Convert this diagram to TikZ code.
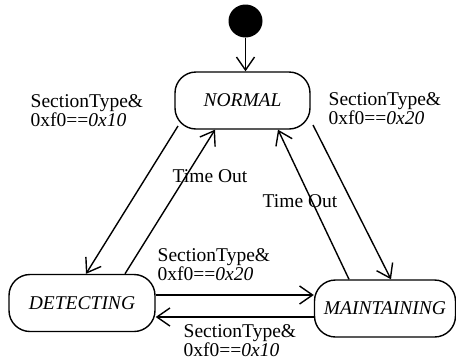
\documentclass[tikz,border=0pt]{standalone}
\usepackage{fontspec}
\setmainfont{Liberation Serif}
\usetikzlibrary{arrows.meta,calc,shapes.geometric}
\begin{document}
\begin{tikzpicture}[x=1pt,y=-1pt, line width=1.4pt,
  state/.style={draw, rounded corners=21pt, minimum width=#1, minimum height=57pt,
    inner sep=0pt, font=\fontsize{19.5}{19.5}\selectfont\itshape},
  lbl/.style={font=\fontsize{19.5}{18.5}\selectfont, align=left, inner sep=0pt, anchor=north west},
  tlbl/.style={font=\fontsize{19.5}{19.5}\selectfont, inner sep=0pt, anchor=base west},
  arr/.style={-{Straight Barb[length=13pt,width=18pt]}}]
\useasboundingbox (0,0) rectangle (456,360);

\node (init) [ellipse, fill, inner sep=0pt, minimum width=34pt, minimum height=33pt] at (245.5,21) {};
\node (normal) [state=135pt] at (242.5,100.5) {NORMAL};
\node (detecting) [state=146pt] at (82,303) {DETECTING};
\node (maintaining) [state=141pt] at (385,308.5) {MAINTAINING};

\draw[arr] (init.south) -- (init.south |- normal.north);

\draw[arr] ($(normal.center)+(-64.5,25.5)$) -- ($(detecting.north)+(4,0)$);
\draw[arr] ($(detecting.north)+(43,0)$) -- ($(normal.south)+(-27.5,0)$);
\draw[arr] ($(normal.center)+(70.5,24.5)$) -- ($(maintaining.north)+(6,0)$);
\draw[arr] ($(maintaining.north)+(-36,0)$) -- ($(normal.south)+(35.5,0)$);

\coordinate (d1) at ($(detecting.east)+(0,-8)$);
\draw[arr] (d1) -- (d1 -| maintaining.west);
\coordinate (m1) at ($(maintaining.west)+(0,8.5)$);
\draw[arr] (m1) -- (m1 -| detecting.east);

\node (l1) [lbl] at (30,94) {SectionType\&\\0xf0==\textit{0x10}};
\node (l2) [lbl] at (328,92) {SectionType\&\\0xf0==\textit{0x20}};
\node (l3) [lbl] at (157,248) {SectionType\&\\0xf0==\textit{0x20}};
\node (l4) [lbl] at (183,324) {SectionType\&\\0xf0==\textit{0x10}};
\node (t1) [tlbl] at (172,182) {Time Out};
\node (t2) [tlbl] at (262,207) {Time Out};
\end{tikzpicture}
\end{document}
